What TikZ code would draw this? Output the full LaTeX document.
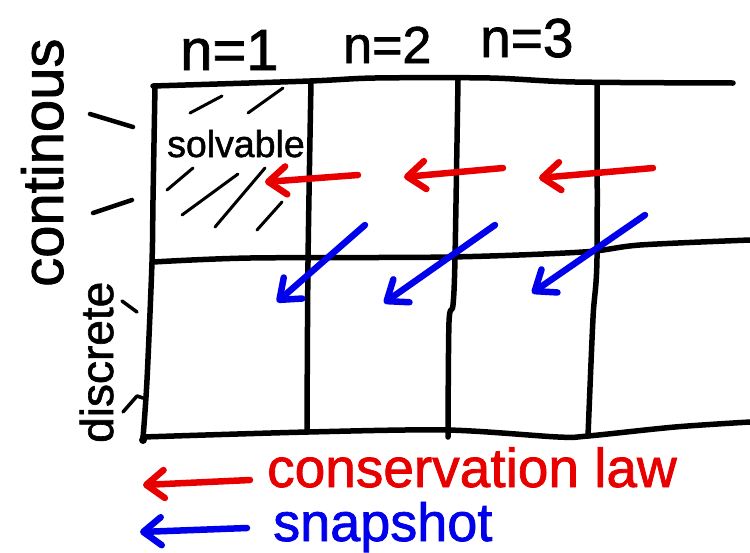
\documentclass[tikz,border=0pt]{standalone}
\usepackage{fontspec}
\setmainfont{Liberation Sans}[FakeBold=1.4]
\usetikzlibrary{arrows.meta}
\definecolor{pen red}{RGB}{232,0,0}
\definecolor{pen blue}{RGB}{0,0,235}
\tikzset{
  gridline/.style={draw=black, line width=5.5pt, line cap=round, line join=round},
  hatch/.style={draw=black, line width=3pt, line cap=round},
  tick/.style={draw=black, line width=4.5pt, line cap=round, line join=round},
  smalltick/.style={draw=black, line width=3.5pt, line cap=round, line join=round},
  penarrow/.style={line width=6.5pt, line cap=round,
    -{Straight Barb[length=18pt,width=28pt,round]}},
  redarrow/.style={penarrow, draw=pen red},
  bluearrow/.style={penarrow, draw=pen blue},
  lbl/.style={inner sep=0pt, anchor=base west},
}
\newcommand{\fs}[1]{\fontsize{#1}{#1}\selectfont}
\begin{document}
\begin{tikzpicture}[x=1pt,y=-1pt]
\fill[white] (0,0) rectangle (750,552);
\useasboundingbox (0,0) rectangle (750,552);

% grid
\draw[gridline] plot[smooth,tension=0.5] coordinates {(153,86) (310,81) (375,78) (490,78) (575,82) (733,83)};
\draw[gridline] plot[smooth,tension=0.5] coordinates {(153,262) (250,258) (450,257) (583,252) (640,245) (750,240)};
\draw[gridline] plot[smooth,tension=0.5] coordinates {(143,437) (308,432) (447,430) (558,437) (588,436) (675,427) (750,422)};
\draw[gridline] plot[smooth,tension=0.5] coordinates {(155,86) (153,200) (152,262) (147,380) (143,438)};
\draw[gridline] plot[smooth,tension=0.5] coordinates {(311,82) (308,262) (307,432)};
\draw[gridline] plot[smooth,tension=0.5] coordinates {(458,80) (455,258) (453,305) (449,322) (448,437)};
\draw[gridline] plot[smooth,tension=0.5] coordinates {(597,83) (597,258) (593,318) (588,436)};
\fill (143,440) circle (4pt);

% column labels
\node[lbl, font=\fs{58}] (n1) at (180,70) {n=1};
\node[lbl, font=\fs{52}] (n2) at (343,63) {n=2};
\node[lbl, font=\fs{55}] (n3) at (480,57) {n=3};

% row labels
\node[lbl, font=\fs{58}, rotate=90] (cont) at (63,287) {continous};
\node[lbl, font=\fs{46}, rotate=90] (disc) at (113,443) {discrete};
\draw[tick] (90,114) -- (133,127);
\draw[tick] (93,213) -- (132,200);
\draw[smalltick] (122,301) -- (137,312);
\draw[smalltick] (123,412) -- (137,396) -- (143,398);

% solvable cell
\node[lbl, font=\fs{37.5}] (solv) at (167,157) {solvable};
\draw[hatch] (190,113) -- (222,96);
\draw[hatch] (248,113) -- (283,88);
\draw[hatch] (167,190) -- (193,168);
\draw[hatch] (182,215) -- (238,174);
\draw[hatch] (215,227) -- (265,168);
\draw[hatch] (257,230) -- (282,202);

% red arrows (conservation law)
\coordinate (r1s) at (358,175); \coordinate (r1e) at (265,182);
\coordinate (r2s) at (503,168); \coordinate (r2e) at (404,177);
\coordinate (r3s) at (653,168); \coordinate (r3e) at (539,178);
\draw[redarrow] (r1s) -- (r1e);
\draw[redarrow] (r2s) -- (r2e);
\draw[redarrow] (r3s) -- (r3e);

% blue arrows (snapshot)
\coordinate (b1s) at (365,225); \coordinate (b1e) at (277,302);
\coordinate (b2s) at (495,225); \coordinate (b2e) at (384,303);
\coordinate (b3s) at (645,215); \coordinate (b3e) at (532,293);
\draw[bluearrow] (b1s) -- (b1e);
\draw[bluearrow] (b2s) -- (b2e);
\draw[bluearrow] (b3s) -- (b3e);

% legend
\coordinate (lrs) at (250,480); \coordinate (lre) at (143,485);
\coordinate (lbs) at (247,528); \coordinate (lbe) at (140,532);
\draw[redarrow] (lrs) -- (lre);
\draw[bluearrow] (lbs) -- (lbe);
\node[lbl, font=\fs{55}, text=pen red] (cons) at (267,487) {conservation law};
\node[lbl, font=\fs{54}, text=pen blue] (snap) at (273,541) {snapshot};
\end{tikzpicture}
\end{document}
